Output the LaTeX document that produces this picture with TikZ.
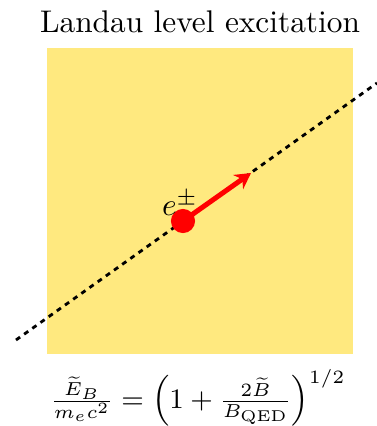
\documentclass[tikz,border=0pt]{standalone}
\usepackage{amsmath}
\usepackage{tikz}
\usetikzlibrary{arrows.meta,positioning,calc}
\definecolor{fieldyellow}{HTML}{FFE97F}
\definecolor{pairred}{HTML}{FF0000}

\begin{document}
\begin{tikzpicture}[x=0.01122cm,y=-0.01122cm,
  field/.style={fill=fieldyellow,draw=none},
  axis/.style={black,line width=0.9pt,dash pattern=on 1.6pt off 1.6pt},
  particle/.style={circle,fill=pairred,minimum size=7.7pt,inner sep=0pt},
  kick/.style={pairred,line width=1.6pt,-{Stealth[length=5pt,width=5.5pt]}},
  caption/.style={font=\normalsize}]

  \useasboundingbox (0,0) rectangle (377,426);
  \fill[field] (47,48) rectangle (353,354);

  \coordinate (axL) at (16,340);
  \coordinate (axR) at (377,83);
  \draw[axis] (axL) -- (axR);

  \node[particle] (ep) at (183,221) {};
  \coordinate (tip) at (251,173);
  \draw[kick] (ep.center) -- (tip);
  \node (eplab) at (180,203) {$e^{\pm}$};

  \node[caption] (title) at (200,22) {Landau level excitation};
  \node[font=\small] (eq) at (198,398)
    {$\frac{\widetilde{E}_B}{m_e c^2} = \left(1+\frac{2\widetilde{B}}{B_{\rm QED}}\right)^{1/2}$};
\end{tikzpicture}
\end{document}
